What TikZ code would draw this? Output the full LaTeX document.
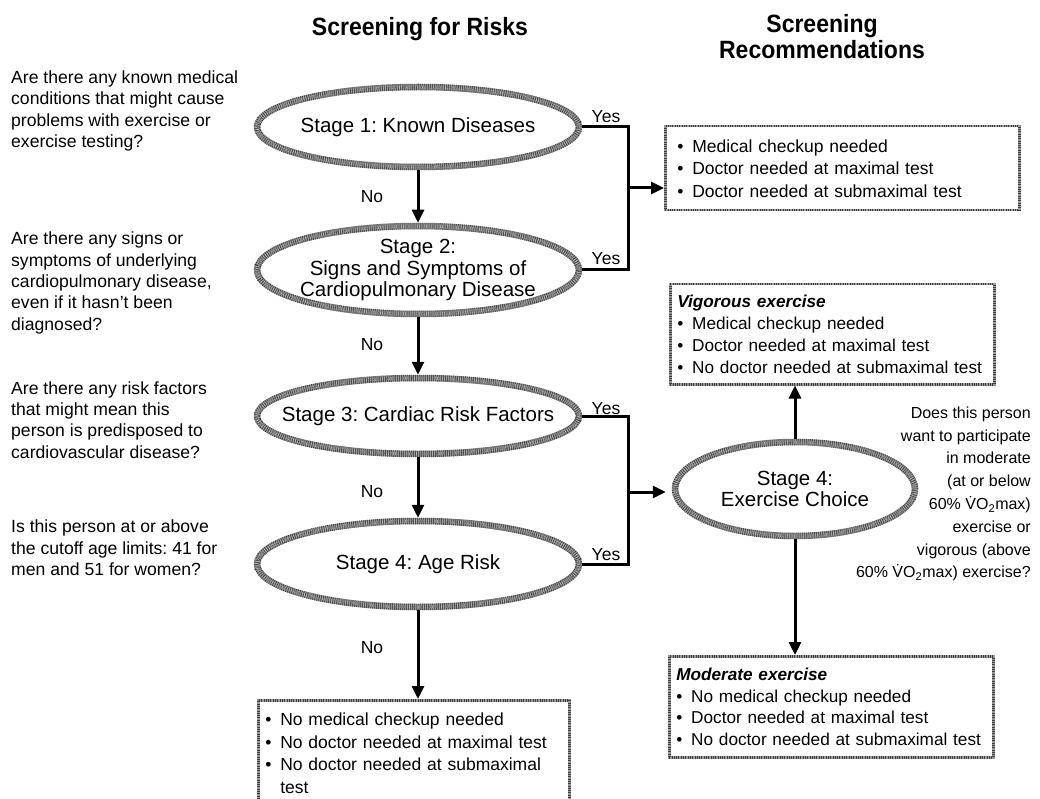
\documentclass[tikz,border=0pt]{standalone}
\usepackage{fontspec}
\setmainfont{Liberation Sans}
\newfontfamily\titlefont{Liberation Sans}[FakeStretch=0.92]
\usetikzlibrary{arrows.meta,shapes.geometric,calc}

% bullet with fixed indent
\newcommand{\bitem}{\makebox[15pt][l]{•}}
% oxygen uptake symbol
\newcommand{\vootwo}{\.{V}O\textsubscript{2}}

\begin{document}
\frenchspacing
\begin{tikzpicture}[x=1pt,y=-1pt,
  ring/.style={ellipse, draw=black!45, line width=6.5pt, inner sep=0pt,
    postaction={draw=black!80, line width=6.5pt, dash pattern=on 0.5pt off 1.5pt},
    postaction={draw=black!18, line width=3pt, dash pattern=on 0.4pt off 1.9pt},
    postaction={draw=black!70, line width=1.5pt, dash pattern=on 0.3pt off 2.3pt}},
  ringtext/.style={align=center, inner sep=0pt, font=\fontsize{20.5}{21.3}\selectfont},
  rbox/.style={rectangle, draw=black!40, line width=2.5pt, anchor=north west,
    inner xsep=7pt, inner ysep=0pt, align=left,
    postaction={draw=black!75, line width=2.5pt, dash pattern=on 0.5pt off 1.8pt}},
  question/.style={anchor=west, align=left, inner sep=0pt, font=\fontsize{17.6}{21.3}\selectfont},
  title/.style={align=center, inner sep=0pt, font=\fontsize{25}{26}\selectfont\titlefont\bfseries},
  answer/.style={inner sep=0pt, font=\fontsize{17.5}{20}\selectfont},
  conn/.style={line width=3pt},
  arr/.style={line width=3pt, -{Triangle[length=13pt,width=12pt]}}
]
\useasboundingbox (0,0) rectangle (1040,799);

% column titles
\node[title] (t1) at (420,29) {Screening for Risks};
\node[title] (t2) at (822,37) {Screening\\Recommendations};

% questions on the left
\node[question] (q1) at (11,111) {Are there any known medical\\conditions that might cause\\problems with exercise or\\exercise testing?};
\node[question] (q2) at (11,283) {Are there any signs or\\symptoms of underlying\\cardiopulmonary disease,\\even if it hasn't been\\diagnosed?};
\node[question] (q3) at (11,420) {Are there any risk factors\\that might mean this\\person is predisposed to\\cardiovascular disease?};
\node[question] (q4) at (11,548) {Is this person at or above\\the cutoff age limits: 41 for\\men and 51 for women?};

% screening stages
\node[ring, minimum width=322, minimum height=80] (s1) at (418,127) {};
\node[ringtext] (s1t) at (s1) {Stage 1: Known Diseases};
\node[ring, minimum width=322, minimum height=88] (s2) at (418,270) {};
\node[ringtext] (s2t) at (s2) {Stage 2:\\Signs and Symptoms of\\Cardiopulmonary Disease};
\node[ring, minimum width=322, minimum height=76] (s3) at (418,416) {};
\node[ringtext] (s3t) at (s3) {Stage 3: Cardiac Risk Factors};
\node[ring, minimum width=322, minimum height=86] (s4) at (418,564) {};
\node[ringtext] (s4t) at (s4) {Stage 4: Age Risk};
\node[ring, minimum width=240, minimum height=94] (s5) at (795,489) {};
\node[ringtext] (s5t) at (s5) {Stage 4:\\Exercise Choice};

% recommendation boxes
\node[rbox, inner xsep=12pt, minimum height=84, text width=330, font=\fontsize{17.5}{22.5}\selectfont] (b1) at (664,125)
  {\bitem Medical checkup needed\\\bitem Doctor needed at maximal test\\\bitem Doctor needed at submaximal test};
\node[rbox, minimum height=100, text width=310, font=\fontsize{17.2}{21.8}\selectfont] (b2) at (669,283)
  {\textbf{\itshape Vigorous exercise}\\\bitem Medical checkup needed\\\bitem Doctor needed at maximal test\\\bitem No doctor needed at submaximal test};
\node[rbox, minimum height=101, text width=310, font=\fontsize{17.2}{21.8}\selectfont] (b3) at (668,655)
  {\textbf{\itshape Moderate exercise}\\\bitem No medical checkup needed\\\bitem Doctor needed at maximal test\\\bitem No doctor needed at submaximal test};
\node[rbox, minimum height=106, text width=297, font=\fontsize{17.5}{22.7}\selectfont] (b4) at (257,699)
  {\bitem No medical checkup needed\\\bitem No doctor needed at maximal test\\\bitem No doctor needed at submaximal\\\hspace*{15pt}test};

% exercise choice question
\node[anchor=east, align=right, inner sep=0pt, font=\fontsize{16}{22.8}\selectfont] (q5) at (1031,494)
  {Does this person\\want to participate\\in moderate\\(at or below\\60\% \vootwo max)\\exercise or\\vigorous (above\\60\% \vootwo max) exercise?};

% "No" branches
\draw[arr] (s1.south) -- (s2.north);
\draw[arr] (s2.south) -- (s3.north);
\draw[arr] (s3.south) -- (s4.north);
\draw[arr] (s4.south) -- (s4.south |- b4.north);
\node[answer] (n1) at (372,197) {No};
\node[answer] (n2) at (372,345) {No};
\node[answer] (n3) at (372,492) {No};
\node[answer] (n4) at (372,648) {No};

% "Yes" branches
\coordinate (j1) at (628,188);
\coordinate (j2) at (628,492);
\draw[conn] (s1.east) -| (j1) |- (s2.east);
\draw[arr] (j1) -- (b1.west |- j1);
\draw[conn] (s3.east) -| (j2) |- (s4.east);
\draw[arr, shorten >=6pt] (j2) -- (s5.west |- j2);
\node[answer] (y1) at (606,117) {Yes};
\node[answer] (y2) at (606,259) {Yes};
\node[answer] (y3) at (606,409) {Yes};
\node[answer] (y4) at (606,555) {Yes};

% exercise choice outcomes
\draw[arr] (s5.north) -- (s5.north |- b2.south);
\draw[arr] (s5.south) -- (s5.south |- b3.north);
\end{tikzpicture}
\end{document}
